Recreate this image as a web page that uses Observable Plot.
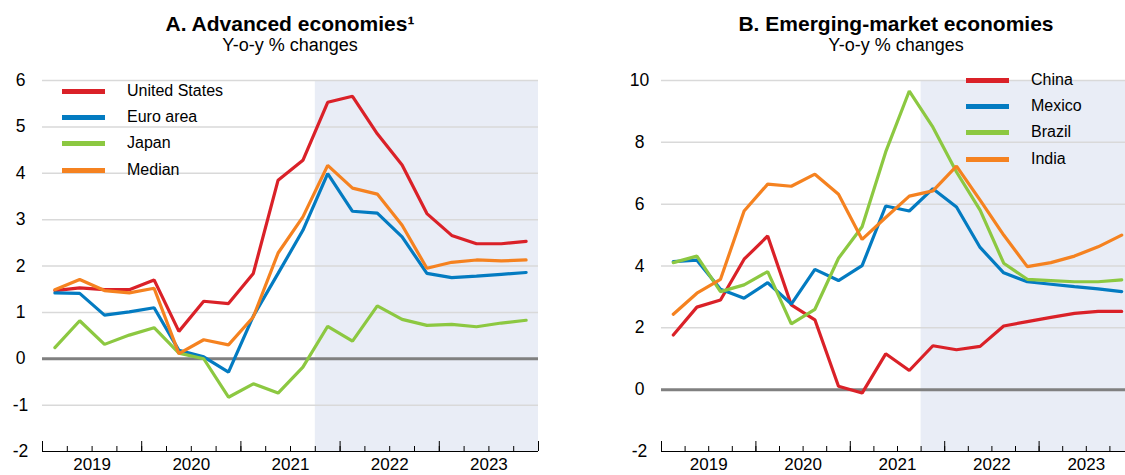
<!DOCTYPE html>
<html><head><meta charset="utf-8">
<script src="https://cdn.jsdelivr.net/npm/d3@7"></script>
<script src="https://cdn.jsdelivr.net/npm/@observablehq/plot@0.6"></script>
<style>
body{margin:0;background:#fff;overflow:hidden;font-family:"Liberation Sans",Arial,sans-serif;}
#root{position:relative;width:1125px;height:475px;overflow:hidden;}
.title{position:absolute;font-weight:bold;font-size:21px;line-height:24px;text-align:center;color:#000;white-space:nowrap;transform:translateX(-50%);}
.sub{position:absolute;font-size:18px;line-height:21px;text-align:center;color:#000;white-space:nowrap;transform:translateX(-50%);}
.panel{position:absolute;top:60px;}
.legend{position:absolute;font-size:16px;color:#000;}
.legend .row{position:absolute;white-space:nowrap;height:20px;line-height:20px;}
.legend .sw{position:absolute;left:0;top:8px;width:43px;height:5px;}
.legend .lab{position:absolute;}
</style></head><body><div id="root"></div>
<script>
// ---------- data ----------
const quarters = ["2019-Q1","2019-Q2","2019-Q3","2019-Q4","2020-Q1","2020-Q2","2020-Q3","2020-Q4",
  "2021-Q1","2021-Q2","2021-Q3","2021-Q4","2022-Q1","2022-Q2","2022-Q3","2022-Q4",
  "2023-Q1","2023-Q2","2023-Q3","2023-Q4"];
const years = ["2019","2020","2021","2022","2023"];
const projectionStart = "2021-Q4";

const seriesA = ["United States","Euro area","Japan","Median"];
const unitedStates = [1.47,1.53,1.49,1.49,1.70,0.59,1.24,1.19,1.84,3.85,4.28,5.53,5.66,4.85,4.18,3.13,2.66,2.48,2.48,2.53];
const euroArea     = [1.42,1.41,0.94,1.01,1.10,0.18,0.04,-0.29,0.92,1.84,2.77,3.99,3.18,3.14,2.63,1.84,1.75,1.78,1.82,1.86];
const japan        = [0.24,0.82,0.31,0.51,0.67,0.12,0.00,-0.83,-0.54,-0.74,-0.18,0.70,0.38,1.14,0.85,0.72,0.74,0.69,0.77,0.83];
const median       = [1.49,1.71,1.47,1.42,1.52,0.11,0.41,0.30,0.90,2.28,3.06,4.17,3.68,3.55,2.88,1.95,2.08,2.13,2.11,2.13];
const ticksA = [-2,-1,0,1,2,3,4,5,6];

const seriesB = ["China","Mexico","Brazil","India"];
const china  = [1.77,2.67,2.90,4.22,4.97,2.74,2.26,0.11,-0.11,1.16,0.62,1.42,1.29,1.40,2.06,2.20,2.34,2.47,2.53,2.53];
const mexico = [4.14,4.19,3.25,2.96,3.46,2.77,3.89,3.53,4.01,5.94,5.78,6.50,5.91,4.60,3.78,3.49,3.41,3.33,3.26,3.17];
const brazil = [4.11,4.32,3.17,3.39,3.82,2.13,2.60,4.25,5.27,7.69,9.66,8.49,7.04,5.81,4.09,3.57,3.53,3.49,3.49,3.55];
const india  = [2.44,3.12,3.57,5.78,6.65,6.58,6.97,6.32,4.86,5.57,6.26,6.43,7.23,6.13,5.00,3.98,4.11,4.32,4.62,5.00];
const ticksB = [-2,0,2,4,6,8,10];

const colors = ["#DA2128","#037BC1","#8CC841","#F58220"];

// ---------- helpers ----------
function tidy(names, arrays) {
  const out = [];
  names.forEach((n, k) => arrays[k].forEach((v, i) => out.push({series: n, i, v})));
  return out;
}
const boundaries = quarters.map((q, i) => i - 0.5).concat([quarters.length - 0.5]);
const yearBounds = boundaries.filter((b, k) => k % 4 === 0);
const yearCenters = years.map((y, k) => 4 * k + 1.5);
const shadeStart = quarters.indexOf(projectionStart) - 0.5;

function panel(opts) {
  const data = tidy(opts.names, opts.arrays);
  const [y0] = opts.domain;
  return Plot.plot({
    width: opts.width, height: 415,
    marginLeft: opts.ml, marginRight: opts.mr, marginTop: 20, marginBottom: 24,
    style: {fontFamily: '"Liberation Sans", Arial, sans-serif', fontSize: "17px", color: "#000", background: "transparent", overflow: "visible"},
    x: {domain: [-0.5, quarters.length - 0.5], axis: null, label: null},
    y: {domain: opts.domain, axis: null, label: null},
    color: {domain: opts.names, range: colors},
    marks: [
      Plot.rect([0], {x1: shadeStart, x2: quarters.length - 0.5, fill: "#E9EDF6"}),
      Plot.ruleY(opts.ticks.filter(t => t !== 0 && t !== y0), {stroke: "#D9D9D9", strokeWidth: 1.5}),
      Plot.ruleY([0], {stroke: "#808080", strokeWidth: 3}),
      Plot.line(data, {x: "i", y: "v", z: "series", stroke: "series", strokeWidth: 3.2, strokeLinejoin: "miter"}),
      Plot.ruleY([y0], {stroke: "#000", strokeWidth: 1.2}),
      Plot.axisX({ticks: boundaries, tickSize: -5, tickFormat: () => "", stroke: "#000", label: null}),
      Plot.axisX({ticks: yearBounds, tickSize: -10, tickFormat: () => "", stroke: "#000", label: null}),
      Plot.axisX({ticks: yearCenters, tickSize: 0, tickPadding: 6, tickFormat: (d, k) => years[k], fontSize: 17, label: null}),
      Plot.axisY({ticks: opts.ticks, tickSize: 0, tickPadding: 22, textAnchor: "middle", fontSize: 17.5, label: null, tickFormat: d => String(d)})
    ]
  });
}

const root = document.getElementById("root");
function addDiv(cls, text, css) {
  const d = document.createElement("div");
  d.className = cls; d.textContent = text;
  Object.assign(d.style, css);
  root.appendChild(d);
  return d;
}
function addLegend(names, left, top, spacing) {
  const lg = addDiv("legend", "", {left: left + "px", top: top + "px"});
  names.forEach((n, k) => {
    const r = document.createElement("div");
    r.className = "row"; r.style.top = (k * spacing) + "px";
    const sw = document.createElement("div"); sw.className = "sw"; sw.style.background = colors[k];
    const lab = document.createElement("div"); lab.className = "lab"; lab.style.left = "65px"; lab.textContent = n;
    r.appendChild(sw); r.appendChild(lab); lg.appendChild(r);
  });
}

const pA = panel({names: seriesA, arrays: [unitedStates, euroArea, japan, median], domain: [-2, 6], ticks: ticksA, width: 545, ml: 42, mr: 7});
pA.classList.add("panel"); pA.style.left = "0px"; root.appendChild(pA);
const pB = panel({names: seriesB, arrays: [china, mexico, brazil, india], domain: [-2, 10], ticks: ticksB, width: 575, ml: 101, mr: 2});
pB.classList.add("panel"); pB.style.left = "560px"; root.appendChild(pB);

addDiv("title", "A. Advanced economies\u00B9", {left: "290px", top: "12px"});
addDiv("sub", "Y-o-y % changes", {left: "290px", top: "35px"});
addDiv("title", "B. Emerging-market economies", {left: "896px", top: "12px"});
addDiv("sub", "Y-o-y % changes", {left: "896px", top: "35px"});

addLegend(seriesA, 62, 81, 26.2);
addLegend(seriesB, 966, 70, 26.2);
</script></body></html>
